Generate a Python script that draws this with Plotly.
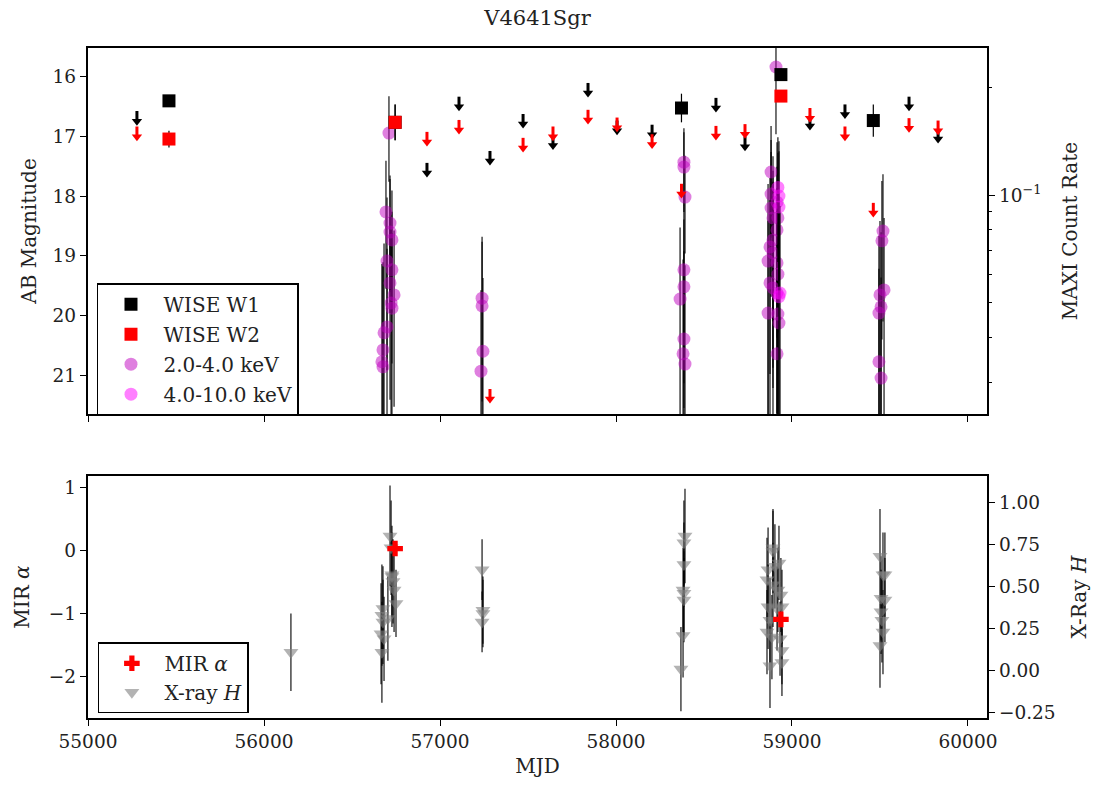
import plotly.graph_objects as go

# ---------------- WISE photometry ----------------
w1_det_mjd = [55460, 56745, 58372, 58937, 59462]
w1_det_mag = [16.40, 16.76, 16.52, 15.96, 16.73]
w1_det_err = [0.06, 0.30, 0.24, 0.10, 0.27]
w1_ul_mjd = [55278, 56926, 57108, 57284, 57472, 57642, 57841, 58006, 58205,
             58568, 58733, 59102, 59301, 59665, 59830]
w1_ul_mag = [16.74, 17.61, 16.50, 17.41, 16.79, 17.15, 16.27, 16.90, 16.97,
             16.52, 17.17, 16.82, 16.63, 16.50, 17.04]

w2_det_mjd = [55460, 56745, 58937]
w2_det_mag = [17.04, 16.76, 16.32]
w2_det_err = [0.14, 0.30, 0.06]
w2_ul_mjd = [55278, 56926, 57108, 57284, 57472, 57642, 57841, 58006, 58205,
             58372, 58568, 58733, 59102, 59301, 59462, 59665, 59830]
w2_ul_mag = [17.00, 17.09, 16.89, 21.40, 17.19, 17.00, 16.72, 16.85, 17.13,
             17.96, 16.99, 16.96, 16.69, 17.00, 18.28, 16.86, 16.90]

# ---------------- MAXI count rates ----------------
lo_mjd = [56710, 56693, 56716, 56716, 56727, 56699, 56727, 56716, 56739, 56722,
          56727, 56699, 56682, 56676, 56670, 56676,
          57239, 57239, 57244, 57233,
          58386, 58386, 58392, 58386, 58386, 58364, 58386, 58381, 58392,
          58909, 58881, 58881, 58915, 58881, 58892, 58920, 58915, 58892, 58875,
          58892, 58864, 58915, 58920, 58875, 58892, 58915, 58864, 58920, 58926,
          58915,
          59517, 59511, 59523, 59500, 59506, 59494, 59494, 59506]
lo_rate = [0.149, 0.0897, 0.0835, 0.0788, 0.0749, 0.0654, 0.0618, 0.0568, 0.0526,
           0.0499, 0.0483, 0.0428, 0.0412, 0.0369, 0.0342, 0.0331,
           0.0515, 0.0490, 0.0366, 0.0322,
           0.1236, 0.1197, 0.0987, 0.0618, 0.0554, 0.0512, 0.0396, 0.0360, 0.0337,
           0.228, 0.116, 0.1006, 0.0955, 0.0920, 0.0863, 0.0863, 0.0799, 0.0749,
           0.0716, 0.0689, 0.0654, 0.0646, 0.0601, 0.0568, 0.0550, 0.0532, 0.0468,
           0.0465, 0.0439, 0.0360,
           0.0793, 0.0745, 0.0543, 0.0526, 0.0487, 0.0468, 0.0342, 0.0308]
lo_err = [0.040, 0.035, 0.030, 0.032, 0.028, 0.033, 0.028, 0.030, 0.027, 0.030,
          0.030, 0.028, 0.032, 0.028, 0.030, 0.030,
          0.025, 0.025, 0.022, 0.022,
          0.030, 0.030, 0.030, 0.032, 0.030, 0.030, 0.030, 0.030, 0.030,
          0.080, 0.040, 0.042, 0.045, 0.040, 0.042, 0.045, 0.040, 0.042, 0.040,
          0.040, 0.042, 0.040, 0.042, 0.040, 0.040, 0.040, 0.038, 0.040, 0.038,
          0.035,
          0.035, 0.035, 0.032, 0.032, 0.030, 0.030, 0.028, 0.028]

hi_mjd = [58920, 58926, 58926, 58932, 58926]
hi_rate = [0.105, 0.0994, 0.0926, 0.0532, 0.0520]
hi_err = [0.040, 0.042, 0.040, 0.040, 0.038]

# ---------------- Bottom panel ----------------
mir_mjd = [56745, 58937]
mir_alpha = [0.03, -1.09]

h_mjd = [56153,
         56716, 56722, 56727, 56733, 56739, 56750, 56676, 56670, 56676, 56665,
         56682, 56670, 56704, 56727,
         57239, 57244, 57244, 57239,
         58392, 58386, 58386, 58381, 58386, 58386, 58381, 58369,
         58892, 58892, 58864, 58926, 58858, 58892, 58920, 58937, 58864, 58943,
         58875, 58858, 58886, 58932, 58943, 58875, 58943, 58915, 58903,
         59500, 59517, 59528, 59506, 59528, 59506, 59511, 59517, 59500]
h_val = [0.11,
         0.80, 0.73, 0.56, 0.53, 0.48, 0.40, 0.37, 0.33, 0.29, 0.22,
         0.19, 0.11, 0.31, 0.57,
         0.60, 0.36, 0.34, 0.29,
         0.80, 0.76, 0.63, 0.48, 0.46, 0.42, 0.21, 0.01,
         0.73, 0.71, 0.60, 0.64, 0.54, 0.51, 0.48, 0.45, 0.38, 0.38,
         0.30, 0.23, 0.20, 0.19, 0.12, 0.03, 0.05, 0.37, 0.62,
         0.68, 0.57, 0.57, 0.43, 0.42, 0.35, 0.30, 0.23, 0.15]
h_err = [0.23,
         0.30, 0.28, 0.30, 0.25, 0.25, 0.20, 0.25, 0.30, 0.25, 0.30,
         0.25, 0.30, 0.25, 0.25,
         0.18, 0.20, 0.20, 0.18,
         0.28, 0.25, 0.25, 0.25, 0.25, 0.25, 0.25, 0.25,
         0.22, 0.25, 0.25, 0.22, 0.25, 0.25, 0.25, 0.22, 0.25, 0.22,
         0.25, 0.25, 0.25, 0.22, 0.20, 0.25, 0.20, 0.25, 0.25,
         0.28, 0.25, 0.25, 0.25, 0.25, 0.25, 0.25, 0.25, 0.25]

x_ticks = [55000, 56000, 57000, 58000, 59000, 60000]
mag_ticks = [16, 17, 18, 19, 20, 21]
mir_ticks = [-2, -1, 0, 1]
h_ticks = [-0.25, 0.0, 0.25, 0.5, 0.75, 1.0]
maxi_minor = [0.03, 0.04, 0.05, 0.06, 0.07, 0.08, 0.09, 0.2]

FONT = "DejaVu Serif"
TXT = "#222"
fig = go.Figure()

# MAXI (right axis, base 'y')
fig.add_trace(go.Scatter(
    x=lo_mjd, y=lo_rate, mode="markers", name="2.0-4.0 keV",
    xaxis="x2", yaxis="y", legend="legend", legendrank=3, legendgroup="lo",
    marker=dict(color="#bf00bf", size=13, opacity=0.5, line=dict(width=0)),
    error_y=dict(type="data", array=lo_err, color="black", thickness=1.1, width=0),
))
fig.add_trace(go.Scatter(
    x=hi_mjd, y=hi_rate, mode="markers", name="4.0-10.0 keV",
    xaxis="x2", yaxis="y", legend="legend", legendrank=4, legendgroup="hi",
    marker=dict(color="#ff00ff", size=13, opacity=0.5, line=dict(width=0)),
    error_y=dict(type="data", array=hi_err, color="black", thickness=1.1, width=0),
))

# WISE (left axis, overlay 'y2')
fig.add_trace(go.Scatter(
    x=w1_det_mjd, y=w1_det_mag, mode="markers", name="WISE W1",
    xaxis="x2", yaxis="y2", legend="legend", legendrank=1, legendgroup="w1",
    marker=dict(color="black", symbol="square", size=13),
    error_y=dict(type="data", array=w1_det_err, color="black", thickness=1.2, width=0),
))
fig.add_trace(go.Scatter(
    x=w1_ul_mjd, y=w1_ul_mag, mode="markers", showlegend=False,
    xaxis="x2", yaxis="y2", legendgroup="w1",
    marker=dict(color="black", symbol="triangle-down", size=9),
    error_y=dict(type="data", symmetric=False, array=[0] * len(w1_ul_mag),
                 arrayminus=[0.17] * len(w1_ul_mag), color="black", thickness=3, width=0),
))
fig.add_trace(go.Scatter(
    x=w2_det_mjd, y=w2_det_mag, mode="markers", name="WISE W2",
    xaxis="x2", yaxis="y2", legend="legend", legendrank=2, legendgroup="w2",
    marker=dict(color="red", symbol="square", size=13),
    error_y=dict(type="data", array=w2_det_err, color="black", thickness=1.2, width=0),
))
fig.add_trace(go.Scatter(
    x=w2_ul_mjd, y=w2_ul_mag, mode="markers", showlegend=False,
    xaxis="x2", yaxis="y2", legendgroup="w2",
    marker=dict(color="red", symbol="triangle-down", size=9),
    error_y=dict(type="data", symmetric=False, array=[0] * len(w2_ul_mag),
                 arrayminus=[0.17] * len(w2_ul_mag), color="red", thickness=3, width=0),
))

# Bottom: X-ray H (right, base 'y3'), MIR alpha (left, overlay 'y4')
fig.add_trace(go.Scatter(
    x=h_mjd, y=h_val, mode="markers", name="X-ray <i>H</i>",
    xaxis="x", yaxis="y3", legend="legend2", legendrank=2, legendgroup="h",
    marker=dict(color="#808080", symbol="triangle-down", size=13, opacity=0.6, line=dict(width=0)),
    error_y=dict(type="data", array=h_err, color="black", thickness=1.1, width=0),
))
fig.add_trace(go.Scatter(
    x=mir_mjd, y=mir_alpha, mode="markers", name="MIR <i>α</i>",
    xaxis="x", yaxis="y4", legend="legend2", legendrank=1, legendgroup="mir",
    marker=dict(color="red", symbol="cross", size=13, line=dict(width=0)),
))

axis_common = dict(showline=True, linecolor="black", linewidth=1.5, ticks="outside",
                   ticklen=6.5, tickwidth=1.3, tickcolor="black", showgrid=False,
                   zeroline=False, automargin=False,
                   tickfont=dict(size=18.5, family=FONT, color=TXT))
TF = dict(size=20, family=FONT, color=TXT)

fig.update_layout(
    width=1097, height=789,
    margin=dict(l=88, r=110, t=48, b=71),
    paper_bgcolor="white", plot_bgcolor="white",
    font=dict(family=FONT, size=18.5, color=TXT),
    title=dict(text="V4641Sgr", x=0.5, xref="paper", y=0.977, yanchor="middle",
               font=dict(size=21, family=FONT, color=TXT)),
    xaxis=dict(domain=[0, 1], anchor="y3", range=[55000, 60108], tickvals=x_ticks,
               tickformat="d", mirror=True,
               title=dict(text="MJD", font=TF, standoff=8), **axis_common),
    xaxis2=dict(domain=[0, 1], anchor="y", matches="x", range=[55000, 60108],
                tickvals=x_ticks, showticklabels=False, mirror=True, **axis_common),
    yaxis=dict(domain=[0.4537, 1], anchor="x2", side="right", type="log",
               range=[-1.612, -0.589], tickvals=[0.1], ticktext=["10<sup>−1</sup>"],
               minor=dict(tickvals=maxi_minor, ticks="outside", ticklen=3.7,
                          tickwidth=1.1, tickcolor="black", showgrid=False),
               title=dict(text="MAXI Count Rate", font=TF, standoff=22),
               **axis_common),
    yaxis2=dict(overlaying="y", anchor="x2", side="left", range=[21.65, 15.514],
                tickvals=mag_ticks,
                title=dict(text="AB Magnitude", font=TF, standoff=10),
                **axis_common),
    yaxis3=dict(domain=[0, 0.361], anchor="x", side="right", range=[-0.28, 1.155],
                tickvals=h_ticks, tickformat=".2f",
                title=dict(text="X-Ray <i>H</i>", font=TF, standoff=17),
                **axis_common),
    yaxis4=dict(overlaying="y3", anchor="x", side="left", range=[-2.65, 1.175],
                tickvals=mir_ticks,
                title=dict(text="MIR <i>α</i>", font=TF, standoff=14),
                **axis_common),
    legend=dict(x=0.01, y=0.649, xanchor="left", yanchor="top", bgcolor="white",
                bordercolor="black", borderwidth=1.5, tracegroupgap=1, itemwidth=55,
                font=dict(size=20, family=FONT, color=TXT)),
    legend2=dict(x=0.011, y=0.113, xanchor="left", yanchor="top", bgcolor="white",
                 bordercolor="black", borderwidth=1.5, tracegroupgap=0, itemwidth=55,
                 font=dict(size=20, family=FONT, color=TXT)),
)

fig.write_html("out.html")
